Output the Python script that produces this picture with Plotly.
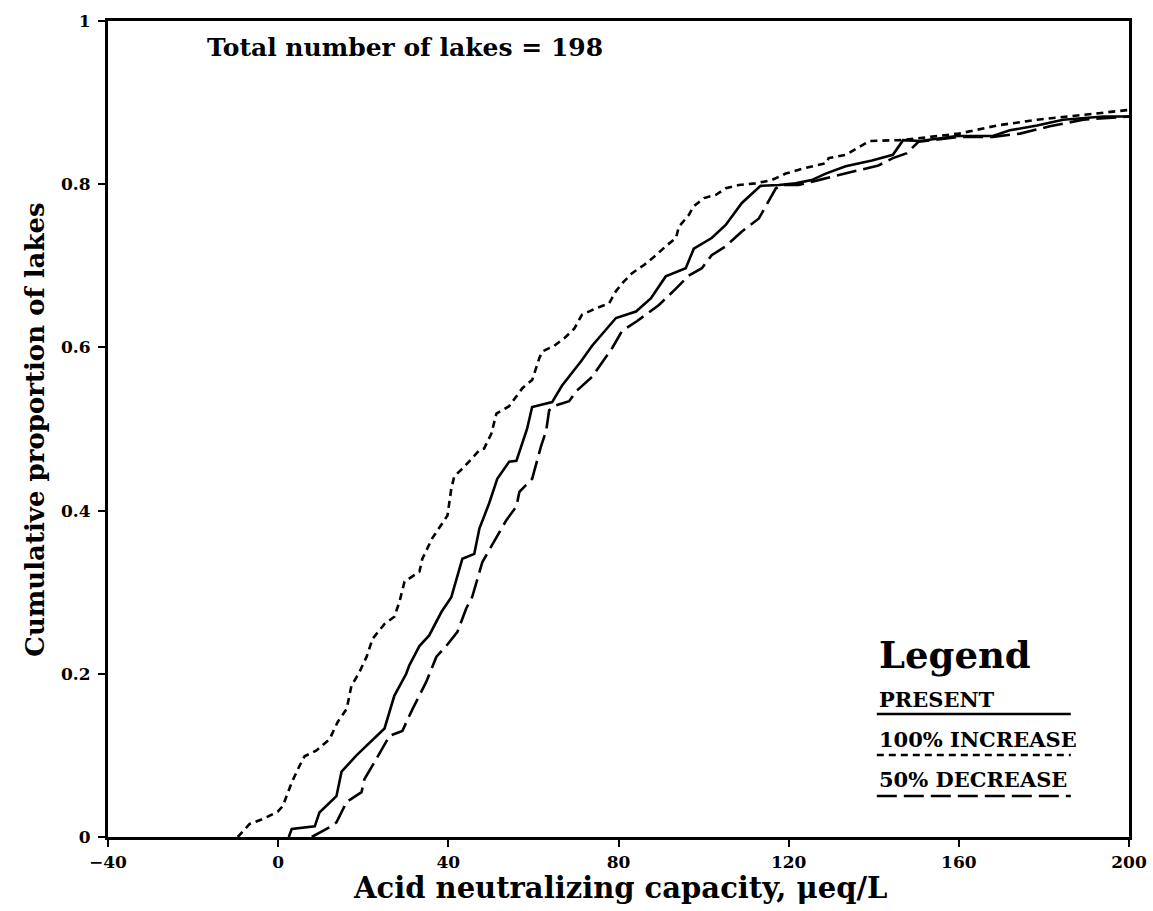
import plotly.graph_objects as go

# Cumulative distributions of acid neutralizing capacity (ueq/L) for 198 lakes
present_anc = [2.5, 3.2, 8.6, 9.7, 13.7, 14.9, 18.4, 23.1, 25, 27.3, 30.1, 30.8, 33.2, 35.5,
               38.4, 40.7, 43.3, 46.1, 47.3, 49.6, 51.5, 54.3, 56, 58.5, 59.7, 64.4, 66.7,
               71.2, 73.8, 79.4, 84.1, 87.6, 91.1, 95.8, 97.7, 101.9, 105.2, 109, 113.4,
               117.7, 121.6, 125.4, 128.7, 133.4, 139.6, 144.5, 146, 146.9, 150.9, 159.5,
               168, 172, 178.4, 184.5, 194, 200]
present_cum = [0, 0.01, 0.013, 0.03, 0.05, 0.08, 0.10, 0.124, 0.133, 0.173, 0.2, 0.21, 0.234,
               0.247, 0.276, 0.294, 0.341, 0.347, 0.378, 0.409, 0.439, 0.46, 0.461, 0.5,
               0.527, 0.533, 0.553, 0.583, 0.602, 0.636, 0.644, 0.66, 0.687, 0.697, 0.721,
               0.734, 0.75, 0.777, 0.798, 0.799, 0.801, 0.805, 0.813, 0.822, 0.829, 0.836,
               0.848, 0.854, 0.853, 0.859, 0.859, 0.866, 0.872, 0.879, 0.883, 0.883]

increase_anc = [-9.5, -6.7, -3.6, -0.1, 1.1, 3.2, 5, 6.2, 9, 12.1, 14, 16.1, 17.2, 19.1, 20.8,
                22.2, 25, 27.3, 28.5, 29.7, 33.2, 33.9, 36.2, 37.9, 39.8, 40.7, 41.4, 43.8,
                47.3, 48.4, 50.1, 51.3, 54.3, 57.4, 59.7, 61.4, 62.1, 64.9, 67.2, 69.6, 71.4,
                74.7, 77.8, 79.4, 81.3, 83.2, 86, 88.8, 91.1, 93.5, 94.2, 96.5, 97.7, 100.1,
                102.9, 105.2, 108.3, 112.2, 116, 119.3, 124, 128.9, 129.4, 133.4, 139, 146,
                150, 160, 169, 178.4, 189, 197, 200]
increase_cum = [0.0, 0.016, 0.022, 0.031, 0.038, 0.067, 0.087, 0.099, 0.106, 0.12, 0.141,
                0.157, 0.185, 0.202, 0.221, 0.243, 0.261, 0.27, 0.288, 0.313, 0.325, 0.341,
                0.366, 0.38, 0.394, 0.427, 0.442, 0.454, 0.474, 0.476, 0.494, 0.519, 0.528,
                0.55, 0.56, 0.587, 0.595, 0.602, 0.611, 0.623, 0.64, 0.648, 0.654, 0.669,
                0.681, 0.691, 0.701, 0.713, 0.724, 0.734, 0.748, 0.762, 0.773, 0.783, 0.787,
                0.795, 0.799, 0.801, 0.805, 0.813, 0.82, 0.826, 0.832, 0.836, 0.853, 0.854,
                0.856, 0.862, 0.872, 0.879, 0.885, 0.89, 0.891]

decrease_anc = [7.9, 12.1, 13.7, 16.1, 19.6, 20.3, 23.1, 26.2, 29.2, 31.6, 34.8, 37.2, 39.5,
                42.1, 44.2, 45.6, 48, 51.3, 53.6, 56, 56.7, 59.7, 61.8, 63, 63.7, 65.3, 68.4,
                70, 73.8, 78.5, 80.8, 84.3, 86.5, 89.5, 93.5, 96.5, 99.6, 101.9, 105.2, 109,
                113, 114.6, 117, 118.4, 122.3, 127, 131.7, 136.4, 141.1, 144.5, 147.8, 150.5,
                160, 168, 171.3, 174.4, 181.4, 189.2, 200]
decrease_cum = [0, 0.012, 0.018, 0.043, 0.055, 0.071, 0.096, 0.124, 0.13, 0.157, 0.19, 0.221,
                0.234, 0.251, 0.28, 0.294, 0.337, 0.366, 0.388, 0.405, 0.423, 0.439, 0.479,
                0.498, 0.523, 0.529, 0.534, 0.546, 0.564, 0.599, 0.62, 0.632, 0.64, 0.652,
                0.672, 0.688, 0.697, 0.713, 0.724, 0.742, 0.758, 0.773, 0.795, 0.799, 0.799,
                0.805, 0.811, 0.817, 0.823, 0.832, 0.838, 0.852, 0.858, 0.858, 0.86, 0.862,
                0.871, 0.879, 0.883]

x_ticks = [-40, 0, 40, 80, 120, 160, 200]
y_ticks = [0, 0.2, 0.4, 0.6, 0.8, 1]
y_tick_text = ["0", "0.2", "0.4", "0.6", "0.8", "1"]

legend_title = "Legend"
legend_labels = ["PRESENT", "100% INCREASE", "50% DECREASE"]

FONT = "DejaVu Serif"
SHORT_DASH = "7px,5px"
LONG_DASH = "20px,7px"

fig = go.Figure()
fig.add_trace(go.Scatter(x=present_anc, y=present_cum, mode="lines",
                         line=dict(color="black", width=2.6), name=legend_labels[0]))
fig.add_trace(go.Scatter(x=increase_anc, y=increase_cum, mode="lines",
                         line=dict(color="black", width=2.6, dash=SHORT_DASH),
                         name=legend_labels[1]))
fig.add_trace(go.Scatter(x=decrease_anc, y=decrease_cum, mode="lines",
                         line=dict(color="black", width=2.6, dash=LONG_DASH),
                         name=legend_labels[2]))

axis_common = dict(
    showline=True, mirror=True, linecolor="black", linewidth=3,
    showgrid=False, zeroline=False, automargin=False,
    ticks="outside", ticklen=7, tickwidth=2, tickcolor="black",
    tickfont=dict(family=FONT, size=17, color="black", weight="bold"),
)

fig.update_xaxes(range=[-40, 200], tickvals=x_ticks, ticklabelstandoff=1, **axis_common)
fig.update_yaxes(range=[0, 1], tickvals=y_ticks, ticktext=y_tick_text,
                 ticklabelstandoff=4, **axis_common)

annotations = [
    dict(text="Total number of lakes = 198", x=0.095, y=0.967, xref="paper", yref="paper",
         xanchor="left", yanchor="middle", showarrow=False,
         font=dict(family=FONT, size=25, color="black", weight="bold")),
    dict(text="Acid neutralizing capacity, μeq/L", x=0.5015, y=-0.0625, xref="paper",
         yref="paper", xanchor="center", yanchor="middle", showarrow=False,
         font=dict(family=FONT, size=29, color="black", weight="bold")),
    dict(text="Cumulative proportion of lakes", x=-0.0715, y=0.499, xref="paper",
         yref="paper", xanchor="center", yanchor="middle", showarrow=False, textangle=-90,
         font=dict(family=FONT, size=26, color="black", weight="bold")),
    dict(text=legend_title, x=0.753, y=0.223, xref="paper", yref="paper",
         xanchor="left", yanchor="middle", showarrow=False,
         font=dict(family=FONT, size=37, color="black", weight="bold")),
]

label_y = [0.168, 0.120, 0.071]
line_y = [0.1507, 0.1005, 0.0502]
line_dash = ["solid", SHORT_DASH, LONG_DASH]
shapes = []
for label, ly, sy, dash in zip(legend_labels, label_y, line_y, line_dash):
    annotations.append(dict(text=label, x=0.753, y=ly, xref="paper", yref="paper",
                            xanchor="left", yanchor="middle", showarrow=False,
                            font=dict(family=FONT, size=21, color="black", weight="bold")))
    shapes.append(dict(type="line", xref="paper", yref="paper", x0=0.753, x1=0.943,
                       y0=sy, y1=sy, line=dict(color="black", width=2.5, dash=dash)))

fig.update_layout(
    width=1153, height=911,
    margin=dict(l=108, r=24, t=21, b=74),
    paper_bgcolor="white", plot_bgcolor="white",
    showlegend=False,
    annotations=annotations,
    shapes=shapes,
)

fig.write_html("out.html")
